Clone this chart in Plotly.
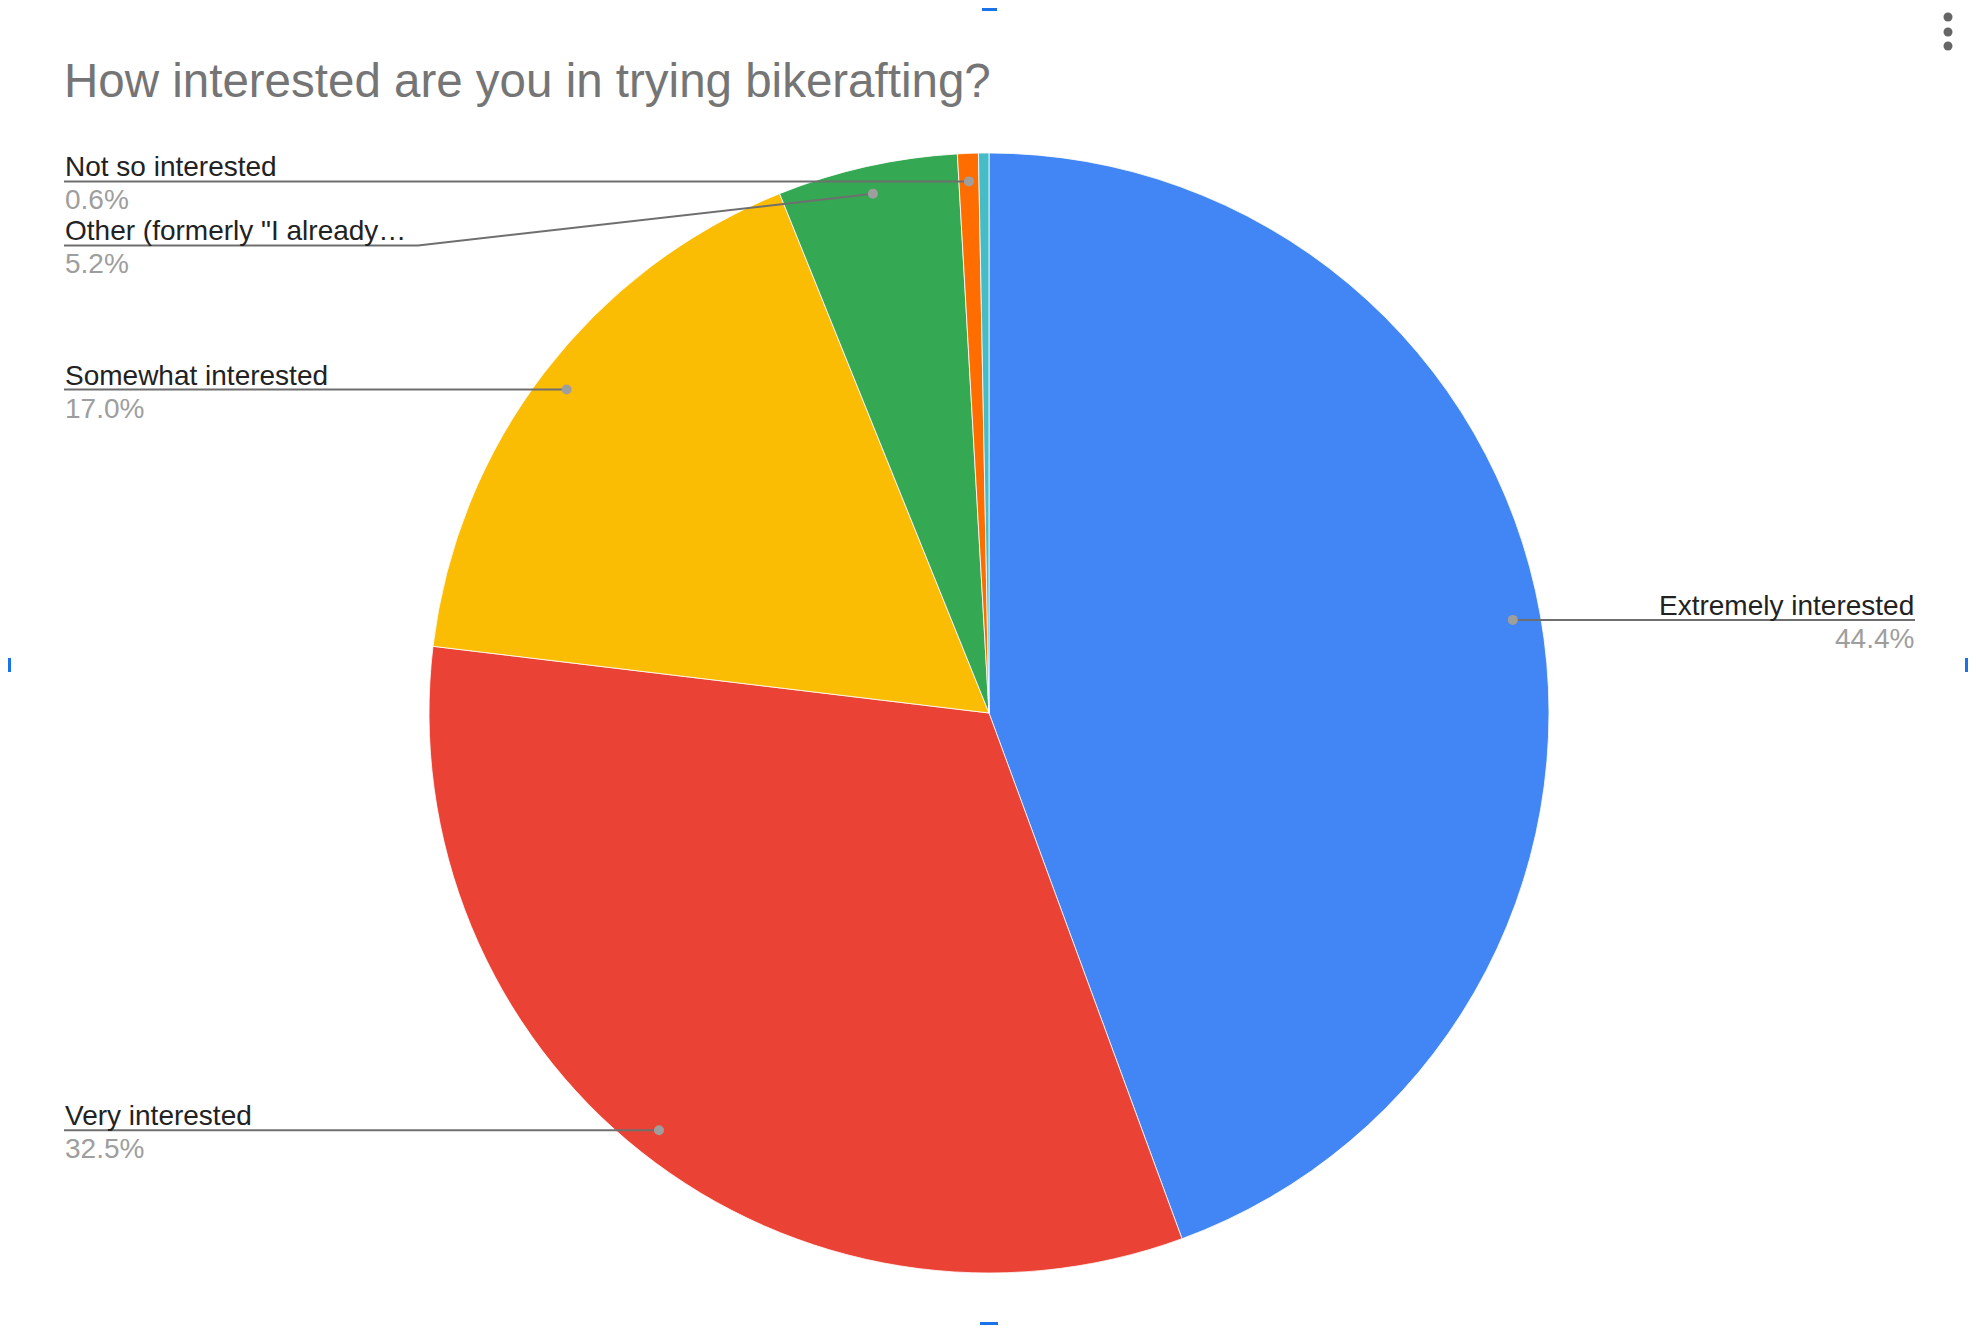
import math
import plotly.graph_objects as go

# Datos de la encuesta (porcentajes)
categorias = ["Extremely interested", "Very interested", "Somewhat interested",
              'Other (formerly "I already…', "Not so interested", ""]
valores = [44.4, 32.5, 17.0, 5.2, 0.6, 0.3]
colores = ["#4285F4", "#EA4335", "#FBBC04", "#34A853", "#FF6D01", "#46BDC6"]
con_etiqueta = [True, True, True, True, True, False]
titulo = "How interested are you in trying bikerafting?"

# Geometría en píxeles de la ventana (la página html añade 8 px de margen)
OFF = 8
W, H = 1976 - 2 * OFF, 1333 - 2 * OFF
CX, CY, R = 989, 713, 560
DOT_FRAC = 0.95
LEFT_X, RIGHT_X = 64, 1915
GAP = 64
ELBOW_X = 418
FONT = "Liberation Sans, Arial, sans-serif"


def px(x):
    return (x - OFF) / W


def py(y):
    return 1 - (y - OFF) / H


fig = go.Figure(go.Pie(
    labels=categorias, values=valores, sort=False, direction="clockwise",
    rotation=0, textinfo="none", hoverinfo="label+percent",
    marker=dict(colors=colores, line=dict(color="white", width=0.8)),
    domain=dict(x=[px(CX - R), px(CX + R)], y=[py(CY + R), py(CY - R)]),
    showlegend=False,
))

# Posición de los puntos de cada etiqueta a partir de los valores
total = sum(valores)
acum = 0
puntos = []
for cat, v, lab in zip(categorias, valores, con_etiqueta):
    theta = 2 * math.pi * (acum + v / 2) / total
    acum += v
    if not lab:
        continue
    dx = CX + DOT_FRAC * R * math.sin(theta)
    dy = CY - DOT_FRAC * R * math.cos(theta)
    puntos.append(dict(cat=cat, pct=f"{v / total * 100:.1f}%", x=dx, y=dy,
                       lado="right" if math.sin(theta) >= 0 else "left"))

shapes = []
annotations = []
for lado in ["left", "right"]:
    grupo = sorted([p for p in puntos if p["lado"] == lado], key=lambda p: p["y"])
    prev = -1e9
    for p in grupo:
        ly = max(p["y"], prev + GAP)
        prev = ly
        x_txt = LEFT_X if lado == "left" else RIGHT_X
        if ly > p["y"] + 1:
            path = f"M {px(x_txt)},{py(ly)} L {px(ELBOW_X)},{py(ly)} L {px(p['x'])},{py(p['y'])}"
        else:
            path = f"M {px(x_txt)},{py(ly)} L {px(p['x'])},{py(p['y'])}"
        shapes.append(dict(type="path", path=path, xref="paper", yref="paper",
                           line=dict(color="#6f6f6f", width=2)))
        shapes.append(dict(type="circle", xref="paper", yref="paper",
                           xsizemode="pixel", ysizemode="pixel",
                           xanchor=px(p["x"]), yanchor=py(p["y"]),
                           x0=-5, x1=5, y0=-5, y1=5,
                           fillcolor="#9e9e9e", line=dict(width=0)))
        anchor = "left" if lado == "left" else "right"
        annotations.append(dict(x=px(x_txt), y=py(ly), xref="paper", yref="paper",
                                text=p["cat"], showarrow=False, xanchor=anchor,
                                yanchor="bottom", yshift=-2, borderpad=0,
                                font=dict(family=FONT, size=28, color="#222222")))
        annotations.append(dict(x=px(x_txt), y=py(ly), xref="paper", yref="paper",
                                text=p["pct"], showarrow=False, xanchor=anchor,
                                yanchor="top", yshift=-2, borderpad=0,
                                font=dict(family=FONT, size=28, color="#9e9e9e")))

# Menú de tres puntos
for y in [17, 32, 46]:
    shapes.append(dict(type="circle", xref="paper", yref="paper",
                       xsizemode="pixel", ysizemode="pixel",
                       xanchor=px(1948), yanchor=py(y), x0=-4.5, x1=4.5, y0=-4.5, y1=4.5,
                       fillcolor="#666666", line=dict(width=0)))

# Marcas de selección azules
for x0, y0, x1, y1 in [(982, 8, 997, 11), (980, 1322, 998, 1325), (8, 658, 11, 672),
                       (1965, 658, 1968, 672)]:
    shapes.append(dict(type="rect", xref="paper", yref="paper",
                       x0=px(x0), x1=px(x1), y0=py(y1), y1=py(y0),
                       fillcolor="#1a73e8", line=dict(width=0)))

fig.update_layout(
    width=W, height=H,
    margin=dict(l=0, r=0, t=0, b=0),
    paper_bgcolor="white", plot_bgcolor="white",
    title=dict(text=titulo, x=px(LEFT_X), xanchor="left", y=py(64), yanchor="top",
               font=dict(family=FONT, size=47.5, color="#757575")),
    shapes=shapes,
    annotations=annotations,
)

fig.write_html("out.html")
